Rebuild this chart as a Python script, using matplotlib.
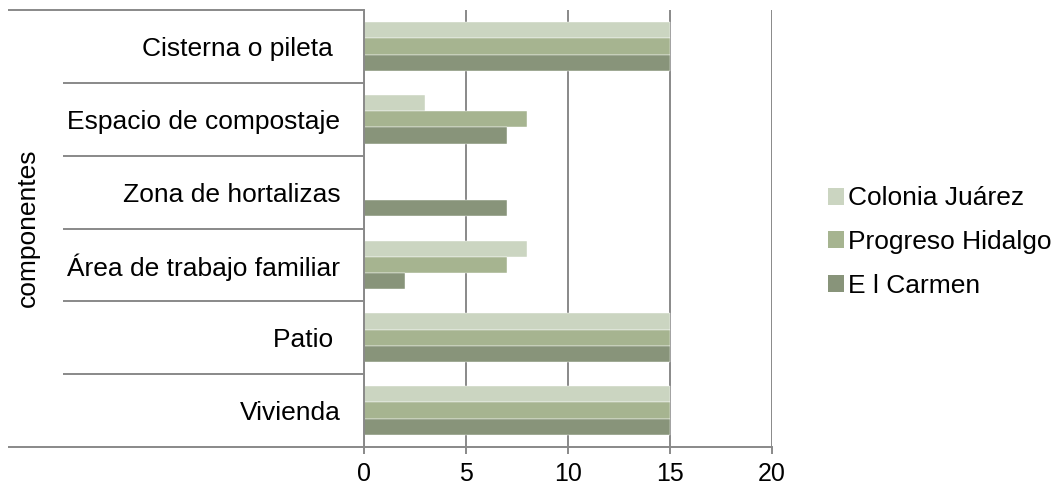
import matplotlib
matplotlib.use("Agg")
import matplotlib.pyplot as plt
import matplotlib.transforms as mtransforms
from matplotlib.patches import Patch
import numpy as np

plt.rcParams['font.family'] = ['Liberation Sans', 'DejaVu Sans']

categories = ["Vivienda", "Patio ", "Área de trabajo familiar",
              "Zona de hortalizas", "Espacio de compostaje", "Cisterna o pileta "]
series_names = ["Colonia Juárez", "Progreso Hidalgo", "E l Carmen"]
colonia_juarez = [15, 15, 8, 0, 3, 15]
progreso_hidalgo = [15, 15, 7, 0, 8, 15]
el_carmen = [15, 15, 2, 7, 7, 15]
x_ticks = [0, 5, 10, 15, 20]
axis_title = "componentes"

colors = ["#cbd5c1", "#a6b490", "#88947a"]
values = [colonia_juarez, progreso_hidalgo, el_carmen]

fig = plt.figure(figsize=(10.6, 4.93), dpi=100)
ax = fig.add_axes([364 / 1060, 46 / 493, 407.5 / 1060, 437 / 493])

y = np.arange(len(categories))
bh = 0.667 / 3
offsets = [bh, 0, -bh]
for vals, col, off, name in zip(values, colors, offsets, series_names):
    ax.barh(y + off, vals, height=bh, color=col, edgecolor="white",
            linewidth=0.3, label=name, zorder=3)

grid_col = "#898989"
lw = 1.4
ax.set_xlim(0, 20)
ax.set_ylim(-0.5, len(categories) - 0.5)
ax.set_xticks(x_ticks)
ax.set_xticklabels([str(t) for t in x_ticks], fontsize=18)
ax.xaxis.grid(True, color=grid_col, linewidth=lw, zorder=1)
ax.tick_params(axis="x", length=5, width=lw, color=grid_col, pad=6)
ax.set_yticks(y)
ax.set_yticklabels(categories, fontsize=19)
ax.tick_params(axis="y", length=0, pad=17)
for s in ["top", "right"]:
    ax.spines[s].set_visible(False)
for s in ["left", "bottom"]:
    ax.spines[s].set_color(grid_col)
    ax.spines[s].set_linewidth(lw)
    ax.spines[s].set_zorder(4)

# category separators on the multi-level axis
trans = mtransforms.blended_transform_factory(ax.transAxes, ax.transData)
inner_x = (63 - 364) / 407.5
outer_x = (8 - 364) / 407.5
bounds = np.arange(len(categories) + 1) - 0.5
for i, b in enumerate(bounds):
    x0 = outer_x if i in (0, len(bounds) - 1) else inner_x
    ax.plot([x0, 0], [b, b], transform=trans, color=grid_col,
            linewidth=lw, clip_on=False, zorder=4, solid_capstyle="butt")

fig.text(28 / 1060, 1 - 228 / 493, axis_title, rotation=90,
         ha="center", va="center", fontsize=19)

handles = [Patch(facecolor=c, edgecolor="none") for c in colors]
ax.legend(handles, series_names, loc="center left",
          bbox_to_anchor=(828 / 1060, 1 - 242 / 493),
          bbox_transform=fig.transFigure, frameon=False, fontsize=19,
          handlelength=0.6, handleheight=0.6, handletextpad=0.15,
          labelspacing=0.74, borderpad=0, borderaxespad=0)

fig.savefig("out.png", dpi=100)
